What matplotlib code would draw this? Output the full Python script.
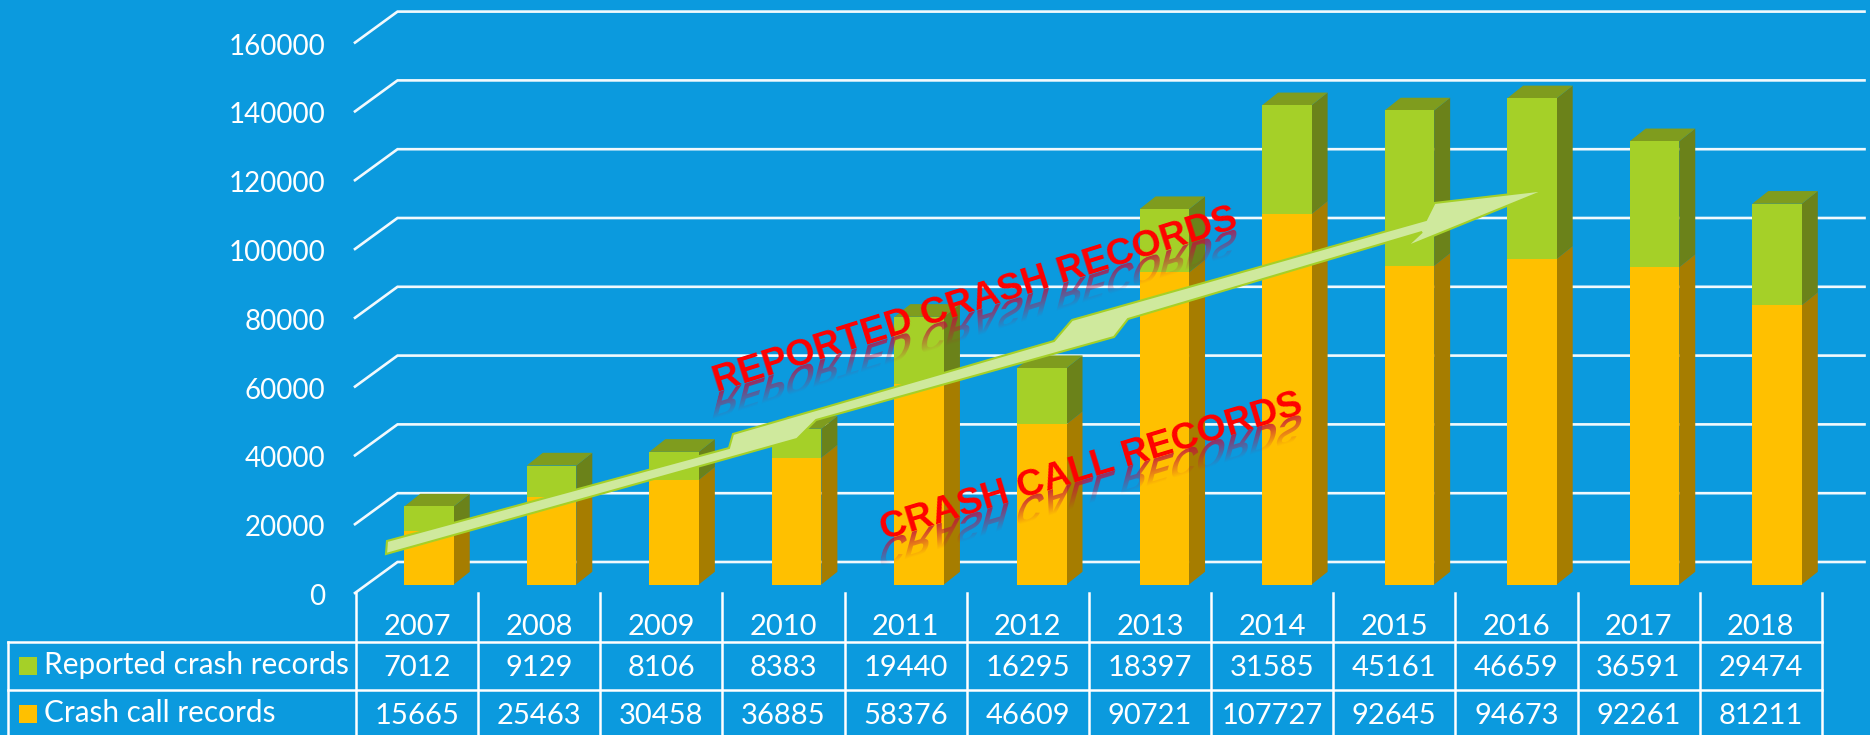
import numpy as np
import matplotlib
matplotlib.use("Agg")
import matplotlib.pyplot as plt
from matplotlib.colors import to_rgb
from matplotlib.patches import Polygon, PathPatch, Rectangle
from matplotlib.textpath import TextPath
from matplotlib.font_manager import FontProperties
from matplotlib.transforms import Affine2D

years = [2007, 2008, 2009, 2010, 2011, 2012, 2013, 2014, 2015, 2016, 2017, 2018]
reported = [7012, 9129, 8106, 8383, 19440, 16295, 18397, 31585, 45161, 46659, 36591, 29474]
calls = [15665, 25463, 30458, 36885, 58376, 46609, 90721, 107727, 92645, 94673, 92261, 81211]
yticks = [0, 20000, 40000, 60000, 80000, 100000, 120000, 140000, 160000]
series_names = ["Reported crash records", "Crash call records"]

BG = "#0b9ade"
ORANGE = "#ffc000"
ORANGE_SIDE = "#a67d00"
GREEN = "#a5d028"
GREEN_SIDE = "#6b821a"
GREEN_TOP = "#7f9c1e"

W, H = 1870, 735
STEP = 122.55     # px per category
X0 = 429.0        # px of first bar centre
Y0 = 584.5        # px of value 0 on the bar plane
PXV = 0.00344     # px per unit of value
BAR_W = 49.5 / STEP

fig = plt.figure(figsize=(W / 100, H / 100), dpi=100, facecolor=BG)
ax = fig.add_axes([0, 0, 1, 1])
ax.set_facecolor(BG)
ax.set_xlim(-X0 / STEP, (W - X0) / STEP)
ax.set_ylim(-(H - Y0) / PXV, Y0 / PXV)
ax.axis("off")

# pixel coords, y down, for the decoration and the table
px = Affine2D().scale(1, -1).translate(0, H)


def dx(p):
    return p / STEP


def dy(p):
    return p / PXV


x = np.arange(len(years))
calls = np.array(calls)
reported = np.array(reported)
total = calls + reported

# gridlines: floor diagonal plus back line, offset from the bar plane
front_dx, front_dy = dx(355 - X0), dy(Y0 - 593)
back_dx, back_dy = dx(397.5 - X0), dy(Y0 - 562)
end_x = dx(1864.5 - X0)
for v in yticks:
    ax.plot([front_dx, back_dx, end_x], [v + front_dy, v + back_dy, v + back_dy],
            color="white", lw=1.9, alpha=0.95, zorder=1, solid_joinstyle="miter")
    ax.text(325, 597 - v * PXV, str(v), transform=px, ha="right", va="center",
            color="white", fontsize=20, family="Lato", zorder=8)

# bars with fake 3d sides
depth_x, depth_y = dx(16), dy(12.7)
for i in x:
    r = i + BAR_W / 2
    l = i - BAR_W / 2
    ax.add_patch(Polygon([(r, 0), (r + depth_x, depth_y), (r + depth_x, calls[i] + depth_y), (r, calls[i])],
                         fc=ORANGE_SIDE, ec="none", zorder=2))
    ax.add_patch(Polygon([(r, calls[i]), (r + depth_x, calls[i] + depth_y),
                          (r + depth_x, total[i] + depth_y), (r, total[i])],
                         fc=GREEN_SIDE, ec="none", zorder=2))
    ax.add_patch(Polygon([(l, total[i]), (r, total[i]), (r + depth_x, total[i] + depth_y),
                          (l + depth_x, total[i] + depth_y)],
                         fc=GREEN_TOP, ec="none", zorder=2))
ax.bar(x, calls, width=BAR_W, color=ORANGE, zorder=3)
ax.bar(x, reported, width=BAR_W, bottom=calls, color=GREEN, zorder=3)

# arrow
arrow = [(387, 541), (729, 448), (733, 434), (1054, 341), (1072, 320), (1426, 220), (1434.5, 203),
         (1546, 190), (1406, 247), (1422, 232), (1128, 319), (1114, 337), (816, 420), (797, 439), (386, 554)]
ax.add_patch(Polygon(arrow, closed=True, transform=px, fc="#cfe99d", ec="#a5d028", lw=1.5, zorder=5))


def word_art(s, x0, y0, angle, size):
    fp = FontProperties(family="Liberation Sans", weight="bold", size=size)
    tp = TextPath((0, 0), s, prop=fp, size=size * 100 / 72)
    ext = tp.get_extents()
    # faded reflection under the baseline, sheared back to the left
    mirror = Affine2D().scale(1, -1).skew_deg(32, 0).rotate_deg(angle).translate(x0, H - y0)
    patch = PathPatch(tp, transform=mirror, fc="none", ec="none", zorder=6)
    ax.add_patch(patch)
    grad = np.zeros((32, 2, 4))
    grad[..., :3] = to_rgb("#c01040")
    grad[..., 3] = np.linspace(0.8, 0.0, 32)[:, None]
    im = ax.imshow(grad, extent=(ext.x0, ext.x1, 0, ext.y1 * 0.95), aspect="auto", origin="lower",
                   transform=mirror, zorder=6, interpolation="bilinear")
    im.set_clip_path(patch)
    ax.text(x0, y0, s, transform=px, rotation=angle, rotation_mode="anchor", ha="left", va="baseline",
            color="#ff0000", fontsize=size, family="Liberation Sans", weight="bold", zorder=7)


word_art("REPORTED CRASH RECORDS", 717, 392, 17.5, 26.9)
word_art("CRASH CALL RECORDS", 884, 540, 16.8, 26.9)

# keep imshow from moving the limits
ax.set_xlim(-X0 / STEP, (W - X0) / STEP)
ax.set_ylim(-(H - Y0) / PXV, Y0 / PXV)

# data table under the chart
TABLE_STEP = 122.15
col_edges = 356 + TABLE_STEP * np.arange(len(years) + 1)
lw = 1.8
for e in col_edges:
    ax.plot([e, e], [593, H], transform=px, color="white", lw=lw, zorder=4)
ax.plot([8, 8], [642, H], transform=px, color="white", lw=lw, zorder=4)
for yy in (642, 690):
    ax.plot([8, col_edges[-1]], [yy, yy], transform=px, color="white", lw=lw, zorder=4)

for i in x:
    cx = col_edges[i] + TABLE_STEP / 2
    ax.text(cx, 627, str(years[i]), transform=px, ha="center", va="center", color="white",
            fontsize=21, family="Lato")
    ax.text(cx, 668, str(reported[i]), transform=px, ha="center", va="center", color="white",
            fontsize=21, family="Lato")
    ax.text(cx, 716, str(calls[i]), transform=px, ha="center", va="center", color="white",
            fontsize=21, family="Lato")

ax.add_patch(Rectangle((19, 657), 18, 18, transform=px, fc=GREEN, ec="none", zorder=4))
ax.add_patch(Rectangle((19, 705), 18, 18, transform=px, fc=ORANGE, ec="none", zorder=4))
ax.text(44.5, 665, series_names[0], transform=px, ha="left", va="center", color="white",
        fontsize=21.4, family="Lato")
ax.text(44.5, 713, series_names[1], transform=px, ha="left", va="center", color="white",
        fontsize=21.4, family="Lato")

fig.savefig("out.png", dpi=100, facecolor=BG)
